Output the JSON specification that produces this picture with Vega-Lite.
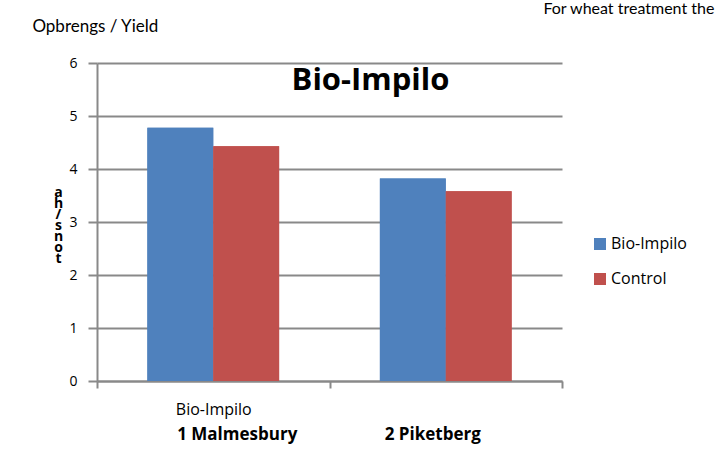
{
  "$schema": "https://vega.github.io/schema/vega-lite/v6.json",
  "padding": {"left": 32, "top": 1, "right": 0, "bottom": 30},
  "background": "white",
  "config": {"view": {"stroke": null}, "font": "Open Sans"},
  "title": {"text": "For wheat treatment the", "anchor": "start", "frame": "bounds", "dx": 511, "font": "Lato", "fontSize": 16, "fontWeight": "normal", "color": "black", "offset": 1},
  "vconcat": [
    {
      "title": {"text": "Opbrengs / Yield", "anchor": "start", "frame": "bounds", "dx": -21, "font": "Lato", "fontSize": 17, "fontWeight": "normal", "color": "black", "offset": 20},
      "vconcat": [
        {
          "title": {"text": "Bio-Impilo", "anchor": "middle", "dx": 41, "offset": -41, "font": "Open Sans", "fontSize": 31, "fontWeight": "bold", "color": "black"},
          "width": 465,
          "height": 318,
          "data": {"values": [
            {"site": "1 Malmesbury", "treatment": "Bio-Impilo", "yield": 4.78},
            {"site": "1 Malmesbury", "treatment": "Control", "yield": 4.43},
            {"site": "2 Piketberg", "treatment": "Bio-Impilo", "yield": 3.82},
            {"site": "2 Piketberg", "treatment": "Control", "yield": 3.58}
          ]},
          "encoding": {
            "xOffset": {"field": "treatment", "type": "nominal", "scale": {"paddingInner": 0, "paddingOuter": 0.765}},
            "y": {"field": "yield", "type": "quantitative", "scale": {"domain": [0, 6], "nice": false},
              "axis": {"values": [0, 1, 2, 3, 4, 5, 6], "title": ["a", "h", "/", "s", "n", "o", "t"], "titleAngle": 0, "titleX": -39, "titleY": 133, "titleAlign": "center", "titleBaseline": "alphabetic", "titleFontSize": 14, "titleFontWeight": "bold", "titleLineHeight": 11, "titleColor": "black", "titleFont": "Open Sans",
                "grid": true, "gridColor": "#898989", "gridWidth": 2, "domainColor": "#898989", "domainWidth": 2, "tickColor": "#898989", "tickWidth": 2, "tickSize": 9, "labelFontSize": 14, "labelColor": "black", "labelPadding": 11, "labelFont": "Open Sans"}},
            "color": {"field": "treatment", "type": "nominal", "scale": {"domain": ["Bio-Impilo", "Control"], "range": ["#4F81BD", "#C0504D"]},
              "legend": {"orient": "none", "legendX": 495, "legendY": 173, "title": null, "symbolType": "square", "symbolSize": 144, "symbolStrokeWidth": 0, "labelFontSize": 16, "labelFont": "Open Sans", "labelColor": "black", "rowPadding": 19, "labelOffset": 3}}
          },
          "layer": [
            {
              "mark": {"type": "bar"},
              "encoding": {
                "x": {"field": "site", "type": "nominal", "scale": {"paddingInner": 0, "paddingOuter": 0},
                  "axis": {"orient": "bottom", "title": null, "labelAngle": 0, "labelExpr": "datum.value == '1 Malmesbury' ? 'Bio-Impilo' : ''", "domainColor": "#898989", "domainWidth": 2, "tickBand": "extent", "tickSize": 7, "tickWidth": 2, "tickColor": "#898989", "labelFontSize": 16, "labelFont": "Open Sans", "labelColor": "black", "labelPadding": 13}}
              }
            },
            {
              "mark": {"type": "bar"},
              "encoding": {
                "x": {"field": "site", "type": "nominal", "scale": {"paddingInner": 0, "paddingOuter": 0},
                  "axis": {"orient": "bottom", "title": null, "labelAngle": 0, "domain": false, "ticks": false, "tickSize": 0, "grid": false, "labelFontSize": 17, "labelFontWeight": "bold", "labelFont": "Open Sans", "labelColor": "black", "labelPadding": 45,
                    "labelOffset": {"condition": {"test": "datum.value == '1 Malmesbury'", "value": 24}, "value": -13}}}
              }
            }
          ],
          "resolve": {"axis": {"x": "independent"}}
        }
      ]
    }
  ]
}
